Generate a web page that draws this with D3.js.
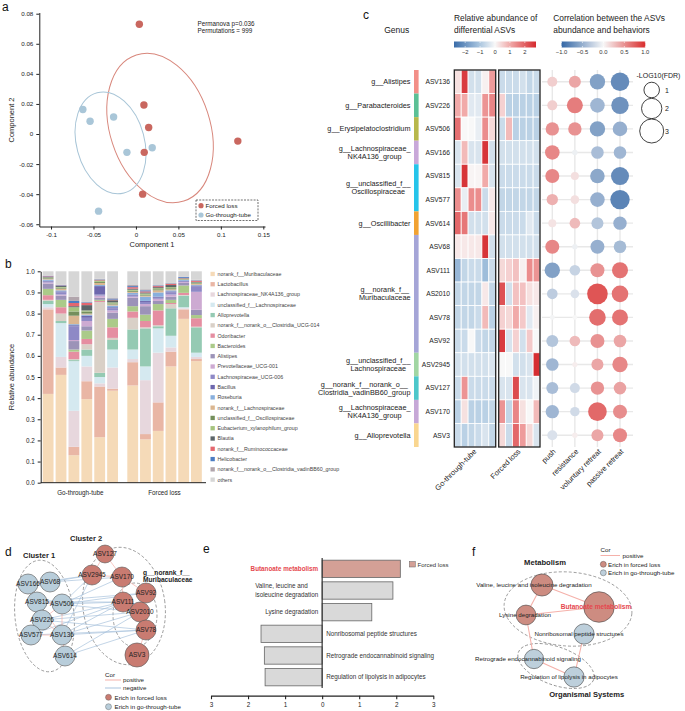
<!DOCTYPE html>
<html><head><meta charset="utf-8">
<script src="https://cdn.jsdelivr.net/npm/d3@7"></script>
<style>
body{margin:0;background:#fff}
svg text{font-family:"Liberation Sans",Arial,sans-serif}
</style></head><body>
<script>
// ---------- data ----------
// a: PCoA points
const aForced = [[0.004,0.073],[0.0094,0.0193],[0.015,0.0043],[0.0098,-0.0122],[0.0079,-0.040],[0.12,-0.0047]];
const aTube = [[-0.0625,0.0163],[-0.054,0.0085],[-0.0263,0.0113],[-0.0106,-0.0122],[0.0192,-0.0091],[-0.044,-0.0513]];
const aXTicks = [-0.1,-0.05,0,0.05,0.1,0.15];
const aYTicks = [-0.06,-0.04,-0.02,0,0.02,0.04,0.06,0.08];
// ellipse centre, half axes (data units), tilt
const aEllForced = {cx:0.0284, cy:0.004, rx:0.0589, ry:0.0511, tilt:-18};
const aEllTube = {cx:-0.0299, cy:-0.0059, rx:0.040, ry:0.0345, tilt:-15};

// b: community composition
const taxa = ["norank_f__Muribaculaceae","Lactobacillus","Lachnospiraceae_NK4A136_group","unclassified_f__Lachnospiraceae","Alloprevotella","norank_f__norank_o__Clostridia_UCG-014","Odoribacter","Bacteroides","Alistipes","Prevotellaceae_UCG-001","Lachnospiraceae_UCG-006","Bacillus","Roseburia","norank_f__Lachnospiraceae","unclassified_f__Oscillospiraceae","Eubacterium_xylanophilum_group","Blautia","norank_f__Ruminococcaceae","Helicobacter","norank_f__norank_o__Clostridia_vadinBB60_group","others"];
const taxaColors = ["#f5dab8","#e9b6a5","#e7d7dd","#d5e9f0","#95cab3","#d9d0c7","#e58ea1","#abca89","#9c93b8","#cdaad2","#8e89c6","#6d67ad","#88afdd","#dab690","#748f5c","#a5c37e","#5c6569","#e4676f","#4b7cc2","#b1a5ac","#d6d6d6"];
const tubeIds = ["G1","G2","G3","G4","G5","G6"];
const forcedIds = ["F1","F2","F3","F4","F5","F6"];
const abundance = {
  G1:[0.42,0.40,0.01,0.015,0.015,0.005,0.022,0.03,0.025,0.005,0.005,0.003,0.006,0.004,0.003,0.003,0.002,0.003,0.002,0.002,0.02],
  G2:[0.51,0.035,0.05,0.16,0.01,0.035,0.03,0.035,0.02,0.005,0.01,0.005,0.005,0.008,0.005,0.003,0.005,0.002,0.002,0.002,0.063],
  G3:[0.13,0.04,0.17,0.235,0.005,0.005,0.035,0.01,0.04,0.005,0.065,0.005,0.005,0.04,0.02,0.02,0.005,0.015,0.01,0.02,0.12],
  G4:[0.395,0.085,0.07,0.05,0.03,0.025,0.025,0.04,0.02,0.025,0.015,0.01,0.005,0.005,0.01,0.005,0.025,0.01,0.003,0.002,0.145],
  G5:[0.215,0.24,0.015,0.03,0.02,0.335,0.005,0.005,0.01,0.01,0.005,0.04,0.005,0.01,0.005,0.005,0.002,0.002,0.002,0.004,0.035],
  G6:[0.435,0.01,0.1,0.085,0.045,0.01,0.05,0.04,0.03,0.01,0.01,0.005,0.008,0.005,0.005,0.005,0.01,0.003,0.005,0.005,0.124],
  F1:[0.46,0.11,0.015,0.045,0.095,0.055,0.03,0.025,0.04,0.005,0.005,0.005,0.008,0.005,0.005,0.005,0.005,0.007,0.005,0.005,0.065],
  F2:[0.205,0.025,0.255,0.065,0.18,0.005,0.03,0.03,0.04,0.01,0.01,0.005,0.02,0.005,0.005,0.005,0.005,0.005,0.005,0.005,0.085],
  F3:[0.245,0.135,0.235,0.115,0.01,0.005,0.07,0.03,0.015,0.01,0.005,0.005,0.02,0.01,0.005,0.005,0.005,0.005,0.003,0.002,0.065],
  F4:[0.55,0.07,0.02,0.055,0.13,0.02,0.005,0.015,0.015,0.01,0.01,0.005,0.005,0.005,0.005,0.005,0.01,0.005,0.002,0.003,0.055],
  F5:[0.775,0.045,0.005,0.005,0.055,0.003,0.01,0.035,0.012,0.004,0.004,0.002,0.004,0.002,0.002,0.002,0.002,0.002,0.004,0.002,0.025],
  F6:[0.575,0.01,0.01,0.02,0.12,0.003,0.04,0.015,0.025,0.085,0.025,0.005,0.003,0.005,0.003,0.003,0.003,0.005,0.002,0.003,0.04]
};

// c: differential ASVs
const asvs = ["ASV136","ASV226","ASV506","ASV166","ASV815","ASV577","ASV614","ASV68","ASV111","AS2010","ASV78","ASV92","ASV2945","ASV127","ASV170","ASV3"];
const genusGroups = [
  {name:["g__Alistipes"], n:1, color:"#f28f88"},
  {name:["g__Parabacteroides"], n:1, color:"#5cc096"},
  {name:["g__Erysipelatoclostridium"], n:1, color:"#b7b84c"},
  {name:["g__Lachnospiraceae_","NK4A136_group"], n:1, color:"#c8a8d9"},
  {name:["g__unclassified_f__","Oscillospiraceae"], n:2, color:"#25c4ea"},
  {name:["g__Oscillibacter"], n:1, color:"#f1a232"},
  {name:["g__norank_f__","Muribaculaceae"], n:5, color:"#a5a5d7"},
  {name:["g__unclassified_f__","Lachnospiraceae"], n:1, color:"#a1d6a3"},
  {name:["g__norank_f__norank_o__","Clostridia_vadinBB60_group"], n:1, color:"#4cc7ca"},
  {name:["g__Lachnospiraceae_","NK4A136_group"], n:1, color:"#c6a8d7"},
  {name:["g__Alloprevotella"], n:1, color:"#f9d690"}
];
const heatTube = [
  [0.3,2.5,-0.5,-0.5,0.1,1.2],[1.0,1.0,-0.3,-0.3,1.3,1.5],[1.8,0.0,0.0,-0.2,1.4,0.4],[-0.4,0.8,-0.4,-0.4,2.6,-0.5],
  [-0.4,2.6,0.05,0.05,1.0,-0.4],[1.4,-0.2,1.4,1.4,-0.6,0.2],[1.9,1.7,-0.5,-0.5,-0.5,0.2],[0.2,0.2,0.2,0.2,2.6,-0.5],
  [-1.3,-0.7,-0.6,-0.6,-1.2,-0.6],[-0.7,-0.7,-0.7,-0.7,0.2,-0.7],[-0.7,-0.7,-0.7,-0.6,0.8,-0.8],[-0.6,-0.6,0.0,-0.6,-0.7,-0.7],
  [-0.5,-0.5,-0.5,-0.5,-0.5,-0.4],[-0.6,1.3,-0.6,-0.6,-0.6,-0.6],[-0.8,0.3,-0.8,-0.8,-0.8,-0.7],[-0.6,-0.8,-0.7,-0.6,-0.4,-0.7]
];
const heatForced = [
  [-0.6,-0.6,-0.6,-0.5,-0.7,-0.6],[0.5,-0.8,-0.8,-0.8,-0.8,-0.8],[-0.6,0.8,-0.8,-0.8,-0.8,-0.8],[-0.5,-0.5,-0.5,-0.5,-0.5,-0.5],
  [-0.6,-0.6,-0.6,-0.6,-0.6,-0.6],[-0.7,-0.7,-0.7,-0.7,-0.7,-0.7],[-0.6,-0.6,-0.6,-0.6,-0.3,-0.6],[-0.5,-0.5,-0.5,-0.5,-0.5,-0.5],
  [0.4,0.5,0.7,0.1,1.4,1.3],[2.2,-0.5,0.7,0.7,0.3,0.2],[0.5,0.4,1.0,0.6,-0.3,0.1],[2.5,-0.4,0.5,-0.5,0.6,0.0],
  [0.0,0.0,-0.5,-0.5,-0.4,2.7],[-0.4,-0.4,2.3,-0.4,-0.4,-0.1],[1.3,-0.7,1.5,0.3,0.0,0.8],[0.4,-0.6,1.9,1.2,0.4,-0.4]
];
const behaviors = ["push","resistance","voluntary retreat","passive retreat"];
const corr = [
  [0.2,0.4,-0.6,-0.75],[0.2,0.6,-0.45,-0.7],[0.5,0.5,-0.6,-0.5],[0.55,-0.05,-0.4,-0.45],
  [0.55,0.12,-0.55,-0.75],[0.35,0.12,-0.5,-0.8],[0.1,0.3,-0.35,-0.5],[0.55,-0.05,-0.5,-0.42],
  [-0.6,-0.25,0.5,0.65],[-0.3,-0.15,0.8,0.65],[-0.02,0.0,0.68,0.65],[-0.35,0.3,0.5,0.4],
  [-0.45,0.05,0.4,0.55],[-0.4,-0.2,0.5,0.42],[-0.45,-0.2,0.7,0.52],[-0.15,0.05,0.4,0.55]
];
const fdr = [
  [0.27,0.48,0.97,1.6],[0.27,1.08,0.84,1.35],[0.66,0.66,0.97,0.84],[0.84,0.015,0.55,0.55],
  [0.75,0.12,0.84,1.47],[0.41,0.16,0.84,1.78],[0.12,0.33,0.48,0.66],[0.75,0.015,0.75,0.55],
  [0.97,0.33,0.75,1.08],[0.33,0.16,2.07,1.19],[0.005,0.003,1.19,1.08],[0.48,0.33,0.75,0.55],
  [0.55,0.01,0.48,0.97],[0.48,0.27,0.66,0.55],[0.66,0.22,1.6,0.75],[0.27,0.015,0.48,0.75]
];
const fdrLegend = [1,2,3];

// d: co-occurrence network (layout units)
const dNodes = [
  {id:"ASV166",x:13,y:36,g:"tube",w:1},{id:"ASV68",x:35,y:34,g:"tube",w:1},{id:"ASV815",x:22,y:54,g:"tube",w:1},
  {id:"ASV506",x:47,y:56,g:"tube",w:1},{id:"ASV226",x:27,y:72,g:"tube",w:1},{id:"ASV577",x:16,y:87,g:"tube",w:1},
  {id:"ASV136",x:47,y:87,g:"tube",w:1},{id:"ASV614",x:50,y:108,g:"tube",w:1},
  {id:"ASV127",x:90,y:6,g:"forced",w:0.8},{id:"ASV2945",x:77,y:27,g:"forced",w:1},{id:"ASV170",x:107,y:29,g:"forced",w:1},
  {id:"ASV92",x:131,y:45,g:"forced",w:1},{id:"ASV111",x:108,y:54,g:"forced",w:1},{id:"ASV2010",x:125,y:64,g:"forced",w:1},
  {id:"ASV78",x:131,y:82,g:"forced",w:1},{id:"ASV3",x:122,y:107,g:"forced",w:1.45}
];
const dPositive = [["ASV166","ASV68"],["ASV166","ASV815"],["ASV815","ASV506"],["ASV815","ASV226"],["ASV506","ASV226"],["ASV226","ASV577"],["ASV226","ASV136"],["ASV577","ASV136"],["ASV506","ASV136"],["ASV136","ASV614"],["ASV815","ASV136"],
  ["ASV127","ASV2945"],["ASV127","ASV170"],["ASV2945","ASV170"],["ASV170","ASV92"],["ASV170","ASV111"],["ASV111","ASV2010"],["ASV92","ASV2010"],["ASV2010","ASV78"],["ASV78","ASV3"],["ASV111","ASV78"]];
const dNegative = [["ASV68","ASV2945"],["ASV68","ASV170"],["ASV166","ASV2945"],["ASV815","ASV111"],["ASV815","ASV92"],["ASV815","ASV2010"],["ASV506","ASV2945"],["ASV506","ASV111"],["ASV506","ASV170"],["ASV226","ASV111"],["ASV226","ASV2010"],["ASV226","ASV78"],["ASV577","ASV111"],["ASV577","ASV78"],["ASV136","ASV111"],["ASV136","ASV2010"],["ASV136","ASV78"],["ASV614","ASV78"],["ASV614","ASV2010"],["ASV136","ASV2945"],["ASV506","ASV92"]];
const dClusters = [
  {cx:29.5,cy:68,rx:29.5,ry:56,tilt:-6},{cx:109,cy:58,rx:41,ry:59,tilt:-8},{cx:120,cy:67,rx:22,ry:32,tilt:0}
];

// e: KEGG pathways
const pathways = [["Butanoate metabolism"],["Valine, leucine and","isoleucine degradation"],["Lysine degradation"],["Nonribosomal peptide structures"],["Retrograde endocannabinoid signaling"],["Regulation of lipolysis in adipocytes"]];
const pathwayScore = [2.11,1.91,1.34,-1.65,-1.56,-1.54];
const pathwayHighlight = [true,false,false,false,false,false];
const eTicks = [-3,-2,-1,0,1,2,3];

// f: pathway network (layout units)
const fNodes = [
  {label:"Valine, leucine and isoleucine degradation",x:72,y:35,g:"forced",w:2.6,lx:-8},
  {label:"Butanoate metabolism",x:129,y:57,g:"forced",w:5,lx:-3,hi:true},
  {label:"Lysine degradation",x:56,y:65,g:"forced",w:2.1,lx:-1},
  {label:"Nonribosomal peptide structures",x:114,y:84,g:"tube",w:2.2,lx:-5},
  {label:"Retrograde endocannabinoid signaling",x:64,y:109,g:"tube",w:2.0,lx:-6},
  {label:"Regulation of lipolysis in adipocytes",x:104,y:127,g:"tube",w:2.2,lx:-5}
];
const fEdges = [[0,1],[0,2],[2,1],[2,4],[3,5],[4,5]];
const fGroups = [{cx:98,cy:59,rx:64,ry:37,tilt:4},{cx:86,cy:116,rx:40,ry:19,tilt:20}];

// ---------- drawing ----------
const svg = d3.select("body").append("svg").attr("width",685).attr("height",711).attr("fill","#222");
const RED = "#c9675f", BLUE = "#a9c6d8";
const FONT = '"Liberation Sans",Arial,sans-serif';

function letter(x,y,t){ svg.append("text").attr("x",x).attr("y",y).attr("font-size",12).attr("fill","#111").text(t); }
function styleAxis(g,size){
  g.selectAll("text").attr("font-size",size).attr("fill","#222").attr("font-family",FONT);
  g.selectAll("line").attr("stroke","#222");
  g.select(".domain").attr("stroke","#222");
}
function blockText(g,lines,x,y,anchor,size,lh,opt){
  opt = opt||{};
  const ts = lines.map(l => g.append("text").attr("font-size",size).attr("font-weight",opt.bold?"bold":null)
    .attr("fill",opt.color||"#222").text(l));
  const w = d3.max(ts, t => t.node().getComputedTextLength());
  const y0 = y - (lines.length-1)*lh/2 + size*0.35;
  ts.forEach((t,i) => {
    let tx, a;
    if(opt.inner === "center"){ a="middle"; tx = anchor==="end" ? x-w/2 : anchor==="start" ? x+w/2 : x; }
    else if(opt.inner === "left"){ a="start"; tx = anchor==="end" ? x-w : anchor==="start" ? x : x-w/2; }
    else { a = anchor; tx = x; }
    t.attr("x",tx).attr("y",y0+i*lh).attr("text-anchor",a);
  });
}

// ===== panel a =====
letter(2,11,"a");
const ax = d3.scaleLinear().domain([-0.1138,0.152]).range([39.3,265]);
const ay = d3.scaleLinear().domain([-0.0615,0.0808]).range([226.5,12.5]);
const ga = svg.append("g");
styleAxis(ga.append("g").attr("transform","translate(0,226.5)")
  .call(d3.axisBottom(ax).tickValues(aXTicks).tickSize(3).tickSizeOuter(0).tickFormat(d=>String(d))),6.2);
styleAxis(ga.append("g").attr("transform","translate(39.3,0)")
  .call(d3.axisLeft(ay).tickValues(aYTicks).tickSize(3).tickSizeOuter(0).tickFormat(d=>String(d))),6.2);
ga.append("text").attr("x",152).attr("y",247).attr("text-anchor","middle").attr("font-size",7.5).text("Component 1");
ga.append("text").attr("transform","translate(14,120) rotate(-90)").attr("text-anchor","middle").attr("font-size",7.5).text("Component 2");
function dataEllipse(e,color){
  ga.append("ellipse").attr("cx",0).attr("cy",0)
    .attr("rx",ax(e.cx+e.rx)-ax(e.cx)).attr("ry",ay(e.cy)-ay(e.cy+e.ry))
    .attr("transform",`translate(${ax(e.cx)},${ay(e.cy)}) rotate(${e.tilt})`)
    .attr("fill","none").attr("stroke",color).attr("stroke-width",1);
}
dataEllipse(aEllForced,"#d8877c");
dataEllipse(aEllTube,"#a8c5d7");
ga.selectAll(".pf").data(aForced).join("circle").attr("cx",d=>ax(d[0])).attr("cy",d=>ay(d[1])).attr("r",3.7).attr("fill",RED);
ga.selectAll(".pt").data(aTube).join("circle").attr("cx",d=>ax(d[0])).attr("cy",d=>ay(d[1])).attr("r",3.7).attr("fill",BLUE);
ga.append("text").attr("x",197.5).attr("y",25.5).attr("font-size",6.3).text("Permanova p=0.036");
ga.append("text").attr("x",197.5).attr("y",33).attr("font-size",6.3).text("Permutations = 999");
ga.append("rect").attr("x",196).attr("y",200).attr("width",62).attr("height",20.5).attr("fill","#fff")
  .attr("stroke","#333").attr("stroke-width",0.7).attr("stroke-dasharray","2,1.2");
[["Forced loss",RED],["Go-through-tube",BLUE]].forEach((d,i)=>{
  ga.append("circle").attr("cx",201).attr("cy",205.7+i*9.3).attr("r",2.6).attr("fill",d[1]);
  ga.append("text").attr("x",205.5).attr("y",208+i*9.3).attr("font-size",6.2).text(d[0]);
});

// ===== panel b =====
letter(5,268,"b");
const by = d3.scaleLinear().domain([0,1]).range([482.7,271.3]);
const bxT = d3.scaleBand().domain(tubeIds).range([42.7,118]).paddingInner(0.16);
const bxF = d3.scaleBand().domain(forcedIds).range([127.3,201.7]).paddingInner(0.16);
const gb = svg.append("g");
const stackData = tubeIds.concat(forcedIds).map(id => { const o = {id}; taxa.forEach((t,i)=> o[t]=abundance[id][i]); return o; });
const series = d3.stack().keys(taxa)(stackData);
series.forEach((s,k) => {
  gb.selectAll(null).data(s).join("rect")
    .attr("x",d => d.data.id[0]==="G" ? bxT(d.data.id) : bxF(d.data.id))
    .attr("width",bxT.bandwidth())
    .attr("y",d=>by(d[1])).attr("height",d=>by(d[0])-by(d[1]))
    .attr("fill",taxaColors[k]);
});
styleAxis(gb.append("g").attr("transform","translate(40.7,0)")
  .call(d3.axisLeft(by).ticks(10).tickFormat(d3.format(".1f")).tickSize(3).tickSizeOuter(0)),6.3);
gb.append("line").attr("x1",40.7).attr("x2",206).attr("y1",482.7).attr("y2",482.7).attr("stroke","#222");
gb.append("text").attr("x",80.3).attr("y",494.5).attr("text-anchor","middle").attr("font-size",6.3).text("Go-through-tube");
gb.append("text").attr("x",164.5).attr("y",494.5).attr("text-anchor","middle").attr("font-size",6.3).text("Forced loss");
gb.append("text").attr("transform","translate(14,377) rotate(-90)").attr("text-anchor","middle").attr("font-size",7.5).text("Relative abundance");
const bLeg = d3.scalePoint().domain(taxa).range([274,479.7]);
taxa.forEach((t,i)=>{
  gb.append("rect").attr("x",210.5).attr("y",bLeg(t)-2.2).attr("width",4.3).attr("height",4.3).attr("fill",taxaColors[i]);
  gb.append("text").attr("x",217.5).attr("y",bLeg(t)+1.9).attr("font-size",5.3).attr("fill","#444").text(t);
});

// ===== panel c =====
letter(363,19,"c");
const gc = svg.append("g");
gc.append("text").attr("x",396.7).attr("y",32.5).attr("text-anchor","middle").attr("font-size",8.5).text("Genus");
gc.append("text").attr("x",454).attr("y",20.5).attr("font-size",8.4).text("Relative abundance of");
gc.append("text").attr("x",454).attr("y",32.5).attr("font-size",8.4).text("differential ASVs");
gc.append("text").attr("x",553.3).attr("y",20.5).attr("font-size",8.4).text("Correlation between the ASVs");
gc.append("text").attr("x",553.3).attr("y",32.5).attr("font-size",8.4).text("abundance and behaviors");

const heatColor = d3.scaleLinear().domain([-2.75,-1,0,1,2.75]).range(["#3a6ca9","#abc7e0","#f8f8f8","#f1aaa9","#d52a2e"]);
const corrColor = d3.scaleLinear().domain([-1,0,1]).range(["#3467a6","#f7f7f7","#d92c2c"]);
const defs = svg.append("defs");
function gradient(id,scale,dom){
  const lg = defs.append("linearGradient").attr("id",id);
  d3.range(0,1.0001,0.1).forEach(t => lg.append("stop").attr("offset",t).attr("stop-color",scale(dom[0]+t*(dom[1]-dom[0]))));
}
gradient("gh",heatColor,[-2.75,2.75]);
gradient("gc",corrColor,[-1,1]);
const cbH = d3.scaleLinear().domain([-2.75,2.75]).range([454,536]);
const cbC = d3.scaleLinear().domain([-1,1]).range([561.5,645.3]);
gc.append("rect").attr("x",454).attr("y",41.5).attr("width",82).attr("height",6).attr("fill","url(#gh)");
gc.append("rect").attr("x",561.5).attr("y",41.5).attr("width",83.8).attr("height",6).attr("fill","url(#gc)");
[-2,-1,0,1,2].forEach(v=>{
  gc.append("line").attr("x1",cbH(v)).attr("x2",cbH(v)).attr("y1",41.5).attr("y2",43).attr("stroke","#fff").attr("stroke-width",0.6);
  gc.append("line").attr("x1",cbH(v)).attr("x2",cbH(v)).attr("y1",46).attr("y2",47.5).attr("stroke","#fff").attr("stroke-width",0.6);
  gc.append("text").attr("x",cbH(v)).attr("y",54).attr("text-anchor","middle").attr("font-size",5.8).attr("fill","#333").text(v<0?"\u2212"+(-v):v);
});
[-1,-0.5,0,0.5,1].forEach(v=>{
  gc.append("line").attr("x1",cbC(v)).attr("x2",cbC(v)).attr("y1",41.5).attr("y2",43).attr("stroke","#fff").attr("stroke-width",0.6);
  gc.append("line").attr("x1",cbC(v)).attr("x2",cbC(v)).attr("y1",46).attr("y2",47.5).attr("stroke","#fff").attr("stroke-width",0.6);
  gc.append("text").attr("x",cbC(v)).attr("y",54).attr("text-anchor","middle").attr("font-size",5.8).attr("fill","#333").text((v<0?"\u2212":"")+Math.abs(v).toFixed(1));
});

const cy = d3.scaleBand().domain(asvs).range([70,447]);
const colT = d3.scaleBand().domain(d3.range(6)).range([454.3,495.7]);
const colF = d3.scaleBand().domain(d3.range(6)).range([498.7,540]);
const bx = d3.scalePoint().domain(behaviors).range([552.3,620]);
const rSize = d3.scaleSqrt().domain([0,3]).range([2,12]);
const rowC = a => cy(a)+cy.bandwidth()/2;

// genus bar + labels
let rowIdx = 0;
genusGroups.forEach(gg => {
  const first = asvs[rowIdx], last = asvs[rowIdx+gg.n-1];
  gc.append("rect").attr("x",414).attr("y",cy(first)).attr("width",4.6).attr("height",cy(last)+cy.bandwidth()-cy(first)).attr("fill",gg.color);
  blockText(gc,gg.name,410.5,(rowC(first)+rowC(last))/2,"end",7.3,8.2,{inner:"center"});
  rowIdx += gg.n;
});
asvs.forEach(a => gc.append("text").attr("x",450).attr("y",rowC(a)+2.4).attr("text-anchor","end").attr("font-size",6.7).text(a));

function heat(mat,col){
  asvs.forEach((a,i) => mat[i].forEach((v,j) => {
    gc.append("rect").attr("x",col(j)).attr("y",cy(a)).attr("width",col.bandwidth()).attr("height",cy.bandwidth())
      .attr("fill",heatColor(v)).attr("stroke","#fff").attr("stroke-width",0.8);
  }));
  gc.append("rect").attr("x",col.range()[0]).attr("y",70).attr("width",col.range()[1]-col.range()[0]).attr("height",377)
    .attr("fill","none").attr("stroke","#222").attr("stroke-width",1.3);
}
heat(heatTube,colT);
heat(heatForced,colF);

// dot grid
asvs.forEach(a => gc.append("line").attr("x1",542).attr("x2",633).attr("y1",rowC(a)).attr("y2",rowC(a)).attr("stroke","#e8e8e8").attr("stroke-width",1.4));
behaviors.forEach(b => gc.append("line").attr("x1",bx(b)).attr("x2",bx(b)).attr("y1",70).attr("y2",447).attr("stroke","#e8e8e8").attr("stroke-width",1.4));
asvs.forEach((a,i) => behaviors.forEach((b,j) => {
  gc.append("circle").attr("cx",bx(b)).attr("cy",rowC(a)).attr("r",rSize(fdr[i][j])).attr("fill",corrColor(corr[i][j]));
}));
gc.append("text").attr("x",636.5).attr("y",78).attr("font-size",7).text("-LOG10(FDR)");
fdrLegend.forEach((v,i)=>{
  const yy = [90,108.5,131][i];
  gc.append("circle").attr("cx",651.7).attr("cy",yy).attr("r",rSize(v)).attr("fill","#fff").attr("stroke","#111").attr("stroke-width",0.8);
  gc.append("text").attr("x",665).attr("y",yy+2.5).attr("font-size",7).text(v);
});
// rotated column labels
const rot = (x,t) => gc.append("text").attr("transform",`translate(${x},452) rotate(-45)`).attr("text-anchor","end").attr("font-size",7.5).text(t);
rot(477,"Go-through-tube");
rot(521,"Forced loss");
behaviors.forEach(b => rot(bx(b)+4,b));

// ===== panel d =====
letter(5,556,"d");
const gd = svg.append("g");
const dx = d3.scaleLinear().domain([0,150]).range([15,165]);
const dy = d3.scaleLinear().domain([0,120]).range([548,668]);
const nodeById = new Map(dNodes.map(n=>[n.id,n]));
dClusters.forEach(c => gd.append("ellipse").attr("rx",dx(c.rx)-dx(0)).attr("ry",dy(c.ry)-dy(0))
  .attr("transform",`translate(${dx(c.cx)},${dy(c.cy)}) rotate(${c.tilt})`)
  .attr("fill","none").attr("stroke","#777").attr("stroke-width",0.7).attr("stroke-dasharray","3,2"));
function dEdges(list,color){
  list.forEach(e => { const s=nodeById.get(e[0]), t=nodeById.get(e[1]);
    gd.append("line").attr("x1",dx(s.x)).attr("y1",dy(s.y)).attr("x2",dx(t.x)).attr("y2",dy(t.y)).attr("stroke",color).attr("stroke-width",0.7); });
}
dEdges(dNegative,"#a9c3dd");
dEdges(dPositive,"#f5b1aa");
dNodes.forEach(n => {
  gd.append("circle").attr("cx",dx(n.x)).attr("cy",dy(n.y)).attr("r",10*Math.sqrt(n.w))
    .attr("fill",n.g==="forced"?"#c97b71":"#b8cdda").attr("stroke","#555").attr("stroke-width",0.6);
});
dNodes.forEach(n => gd.append("text").attr("x",dx(n.x)).attr("y",dy(n.y)+2.3).attr("text-anchor","middle").attr("font-size",6.5).attr("fill","#222").text(n.id));
gd.append("text").attr("x",23).attr("y",557.5).attr("font-size",7.5).attr("font-weight","bold").text("Cluster 1");
gd.append("text").attr("x",70).attr("y",541).attr("font-size",7.5).attr("font-weight","bold").text("Cluster 2");
blockText(gd,["g__norank_f__","Muribaculaceae"],143,576,"start",6.6,7,{bold:true,inner:"left"});
gd.append("text").attr("x",105).attr("y",677).attr("font-size",6.2).text("Cor");
gd.append("line").attr("x1",105).attr("x2",121).attr("y1",680).attr("y2",680).attr("stroke","#f5b1aa").attr("stroke-width",1);
gd.append("text").attr("x",123).attr("y",682).attr("font-size",6.2).text("positive");
gd.append("line").attr("x1",105).attr("x2",121).attr("y1",688).attr("y2",688).attr("stroke","#a9c3dd").attr("stroke-width",1);
gd.append("text").attr("x",123).attr("y",690).attr("font-size",6.2).text("negative");
gd.append("circle").attr("cx",108.5).attr("cy",697.3).attr("r",3).attr("fill","#c97b71").attr("stroke","#555").attr("stroke-width",0.4);
gd.append("text").attr("x",114.5).attr("y",699.5).attr("font-size",6.2).text("Erich in forced loss");
gd.append("circle").attr("cx",108.5).attr("cy",706.7).attr("r",3).attr("fill","#b8cdda").attr("stroke","#555").attr("stroke-width",0.4);
gd.append("text").attr("x",114.5).attr("y",709).attr("font-size",6.2).text("Erich in go-through-tube");

// ===== panel e =====
letter(203,553,"e");
const ge = svg.append("g");
const ex = d3.scaleLinear().domain([-3,3]).range([211,433.3]);
const ey = d3.scaleBand().domain(d3.range(pathways.length)).range([558,688]).paddingInner(0.2).paddingOuter(0.1);
pathwayScore.forEach((v,i)=>{
  ge.append("rect").attr("x",ex(Math.min(0,v))).attr("y",ey(i)).attr("width",Math.abs(ex(v)-ex(0))).attr("height",ey.bandwidth())
    .attr("fill",pathwayHighlight[i]?"#d4a096":"#d9d9d9").attr("stroke","#666").attr("stroke-width",0.8);
  const yc = ey(i)+ey.bandwidth()/2;
  if(v>0) blockText(ge,pathways[i],ex(0)-4,yc,"end",6.3,8.6,{inner:"left",bold:pathwayHighlight[i],color:pathwayHighlight[i]?"#e5474e":"#333"});
  else blockText(ge,pathways[i],ex(0)+4,yc,"start",6.3,8.6,{color:"#333"});
});
ge.append("line").attr("x1",ex(0)).attr("x2",ex(0)).attr("y1",558).attr("y2",688).attr("stroke","#333").attr("stroke-width",1.2);
const eAx = ge.append("g").attr("transform","translate(0,695.7)")
  .call(d3.axisBottom(ex).tickValues(eTicks).tickSize(3.5).tickSizeOuter(0).tickFormat(d=>Math.abs(d)));
styleAxis(eAx,6.3);
eAx.select(".domain").attr("stroke-width",1.3);
eAx.selectAll("line").attr("stroke-width",1.1);
ge.append("rect").attr("x",409.3).attr("y",561.5).attr("width",6).attr("height",5.5).attr("fill","#d4a096").attr("stroke","#666").attr("stroke-width",0.5);
ge.append("text").attr("x",417.5).attr("y",566.5).attr("font-size",6).attr("fill","#333").text("Forced loss");

// ===== panel f =====
letter(472,556,"f");
const gf = svg.append("g");
const fx = d3.scaleLinear().domain([0,150]).range([470,620]);
const fy = d3.scaleLinear().domain([0,150]).range([550,700]);
const fR = d3.scaleSqrt().domain([0,5]).range([0,15.3]);
fGroups.forEach(c => gf.append("ellipse").attr("rx",fx(c.rx)-fx(0)).attr("ry",fy(c.ry)-fy(0))
  .attr("transform",`translate(${fx(c.cx)},${fy(c.cy)}) rotate(${c.tilt})`)
  .attr("fill","none").attr("stroke","#777").attr("stroke-width",0.7).attr("stroke-dasharray","3,2"));
fEdges.forEach(e => { const s=fNodes[e[0]], t=fNodes[e[1]];
  gf.append("line").attr("x1",fx(s.x)).attr("y1",fy(s.y)).attr("x2",fx(t.x)).attr("y2",fy(t.y)).attr("stroke","#f5b1aa").attr("stroke-width",1.1); });
fNodes.forEach(n => gf.append("circle").attr("cx",fx(n.x)).attr("cy",fy(n.y)).attr("r",fR(n.w))
  .attr("fill",n.g==="forced"?"#cd8c81":"#bdcfdb").attr("stroke","#444").attr("stroke-width",0.6));
fNodes.forEach(n => gf.append("text").attr("x",fx(n.x+n.lx)).attr("y",fy(n.y)+2.2).attr("text-anchor","middle")
  .attr("font-size",n.hi?6.6:6.2).attr("font-weight",n.hi?"bold":null).attr("fill",n.hi?"#e5474e":"#222").text(n.label));
gf.append("text").attr("x",545).attr("y",564.5).attr("text-anchor","middle").attr("font-size",7.6).attr("font-weight","bold").text("Metabolism");
gf.append("text").attr("x",586.7).attr("y",697).attr("text-anchor","middle").attr("font-size",7.6).attr("font-weight","bold").text("Organismal Systems");
gf.append("text").attr("x",600.5).attr("y",552).attr("font-size",6.2).text("Cor");
gf.append("line").attr("x1",600.5).attr("x2",620).attr("y1",555.5).attr("y2",555.5).attr("stroke","#f5b1aa").attr("stroke-width",1);
gf.append("text").attr("x",622.5).attr("y",557.5).attr("font-size",6.2).text("positive");
gf.append("circle").attr("cx",603.3).attr("cy",564.3).attr("r",3).attr("fill","#cd8c81").attr("stroke","#444").attr("stroke-width",0.4);
gf.append("text").attr("x",608).attr("y",566.5).attr("font-size",6.2).text("Erich in forced loss");
gf.append("circle").attr("cx",603.3).attr("cy",572.8).attr("r",3).attr("fill","#bdcfdb").attr("stroke","#444").attr("stroke-width",0.4);
gf.append("text").attr("x",608).attr("y",575).attr("font-size",6.2).text("Erich in go-through-tube");
</script></body></html>
